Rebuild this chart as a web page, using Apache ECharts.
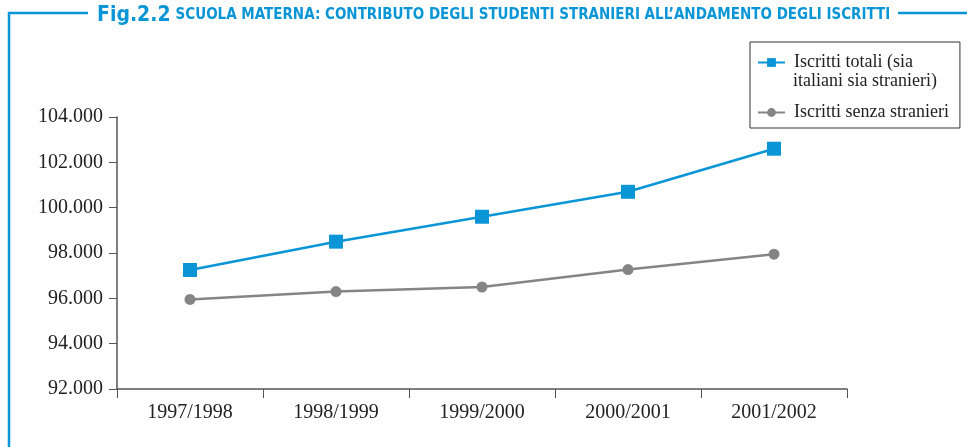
<!DOCTYPE html>
<html lang="it">
  <head>
    <meta charset="UTF-8" />
    <title>Fig.2.2 Scuola materna</title>
    <style>
      html,
      body {
        margin: 0;
        padding: 0;
        background: #fff;
      }
      #main {
        width: 967px;
        height: 447px;
      }
    </style>
  </head>
  <body>
    <div id="main"></div>
    <script src="https://cdn.jsdelivr.net/npm/echarts@6/dist/echarts.min.js"></script>
    <script>
      // anni scolastici e iscritti
      const anni = ["1997/1998", "1998/1999", "1999/2000", "2000/2001", "2001/2002"];
      const iscrittiTotali = [97250, 98500, 99600, 100700, 102600];
      const iscrittiSenzaStranieri = [95950, 96300, 96500, 97270, 97950];
      const yTicks = [92000, 94000, 96000, 98000, 100000, 102000, 104000];

      const nomeTotali = "Iscritti totali (sia\nitaliani sia stranieri)";
      const nomeSenza = "Iscritti senza stranieri";

      const blu = "#0a95d6";
      const grigio = "#858585";
      const serif = "'Liberation Serif', 'DejaVu Serif', serif";
      const sansC = "'Liberation Sans Narrow', 'DejaVu Sans Condensed', sans-serif";

      const fmt = (v) => String(v).replace(/(\d)(?=(\d{3})+$)/g, "$1.");

      const chart = echarts.init(document.getElementById("main"));
      const option = {
        animation: false,
        title: {
          left: 92,
          top: 0,
          text: "{a|Fig.2.2} {b|SCUOLA MATERNA: CONTRIBUTO DEGLI STUDENTI STRANIERI ALL’ANDAMENTO DEGLI ISCRITTI}",
          textStyle: {
            rich: {
              a: { fontFamily: sansC, fontWeight: "bold", fontSize: 21, color: blu },
              b: { fontFamily: sansC, fontWeight: "bold", fontSize: 15, color: blu },
            },
          },
        },
        graphic: [
          { type: "line", shape: { x1: 8, y1: 13, x2: 88, y2: 13 }, style: { stroke: blu, lineWidth: 2.5 } },
          { type: "line", shape: { x1: 898, y1: 13, x2: 967, y2: 13 }, style: { stroke: blu, lineWidth: 2.5 } },
          { type: "line", shape: { x1: 9, y1: 12, x2: 9, y2: 447 }, style: { stroke: blu, lineWidth: 2.5 } },
          // seconda riga della prima voce di legenda
          {
            type: "text",
            left: 793,
            top: 72,
            style: { text: nomeTotali.split("\n")[1], font: "18px " + serif, fill: "#222" },
          },
        ],
        legend: {
          orient: "vertical",
          left: 750,
          top: 42,
          padding: [11, 11, 6, 7],
          itemGap: 31,
          itemWidth: 27,
          itemHeight: 11,
          borderColor: "#333",
          borderWidth: 1,
          formatter: (name) => name.split("\n")[0],
          textStyle: { fontFamily: serif, fontSize: 18, color: "#222", lineHeight: 19, padding: [0, 0, 0, 4] },
          data: [nomeTotali, nomeSenza],
        },
        grid: { left: 117, right: 120, top: 117, bottom: 58 },
        xAxis: {
          type: "category",
          data: anni,
          boundaryGap: true,
          axisLine: { lineStyle: { color: "#555", width: 1.5 } },
          axisTick: { show: true, length: 9, lineStyle: { color: "#555", width: 1 } },
          axisLabel: { fontFamily: serif, fontSize: 20, color: "#222", margin: 14 },
        },
        yAxis: {
          type: "value",
          min: yTicks[0],
          max: yTicks[yTicks.length - 1],
          interval: 2000,
          splitLine: { show: false },
          axisLine: { show: true, lineStyle: { color: "#555", width: 1.5 } },
          axisTick: { show: true, length: 8, lineStyle: { color: "#555", width: 1 } },
          axisLabel: { fontFamily: serif, fontSize: 20, color: "#222", margin: 14, formatter: fmt },
        },
        series: [
          {
            name: nomeTotali,
            type: "line",
            data: iscrittiTotali,
            symbol: "rect",
            symbolSize: 14,
            itemStyle: { color: blu },
            lineStyle: { color: blu, width: 2.5 },
          },
          {
            name: nomeSenza,
            type: "line",
            data: iscrittiSenzaStranieri,
            symbol: "circle",
            symbolSize: 11,
            itemStyle: { color: grigio },
            lineStyle: { color: grigio, width: 2.5 },
          },
        ],
      };
      chart.setOption(option);
    </script>
  </body>
</html>
